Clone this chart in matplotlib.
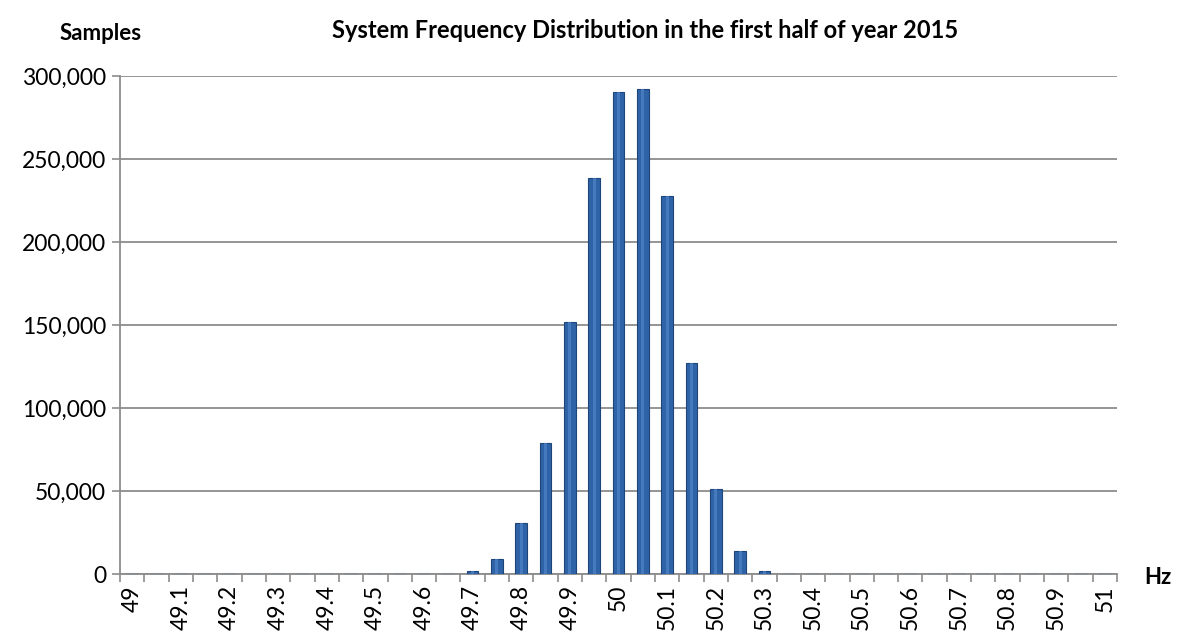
import matplotlib.pyplot as plt
from matplotlib.ticker import FuncFormatter

# frequency bins (Hz) and sample counts
hz_bins = ["49", "49.05", "49.1", "49.15", "49.2", "49.25", "49.3", "49.35", "49.4",
           "49.45", "49.5", "49.55", "49.6", "49.65", "49.7", "49.75", "49.8", "49.85",
           "49.9", "49.95", "50", "50.05", "50.1", "50.15", "50.2", "50.25", "50.3",
           "50.35", "50.4", "50.45", "50.5", "50.55", "50.6", "50.65", "50.7", "50.75",
           "50.8", "50.85", "50.9", "50.95", "51"]
samples = [0, 0, 0, 0, 0, 0, 0, 0, 0,
           0, 0, 0, 50, 300, 2000, 9300, 30500, 78700,
           151800, 238300, 290600, 292000, 227800, 127300, 51000, 13800, 2100,
           300, 0, 0, 0, 0, 0, 0, 0, 0,
           0, 0, 0, 0, 0]

plt.rcParams['font.family'] = ['Lato', 'DejaVu Sans']

fig = plt.figure(figsize=(11.84, 6.39), dpi=100)
ax = fig.add_axes([0.1014, 0.1017, 0.8420, 0.7793])

x = list(range(len(hz_bins)))
ax.bar(x, samples, width=0.48, color='#2F63A8', edgecolor='#1E4578', linewidth=0.8, zorder=3)
# light highlight strip to mimic the cylinder look
ax.bar(x, samples, width=0.12, color='#4F85C9', linewidth=0, zorder=4, alpha=0.7)
# base caps drawn at every category
ax.scatter(x, [0] * len(x), marker='_', s=100, color='#9BB4D8', zorder=2, linewidths=1.5)

ax.set_xlim(-0.5, len(hz_bins) - 0.5)
ax.set_ylim(0, 300000)
ax.set_yticks(range(0, 300001, 50000))
ax.yaxis.set_major_formatter(FuncFormatter(lambda v, p: f"{int(v):,}"))
ax.grid(axis='y', color='#8C8C8C', linewidth=1.3, zorder=0)

# labels every 0.1 Hz, ticks at category boundaries
ax.set_xticks(x[::2])
ax.set_xticklabels(hz_bins[::2], rotation=90, fontsize=16.5)
ax.set_xticks([i - 0.5 for i in range(len(hz_bins) + 1)], minor=True)
ax.tick_params(axis='x', which='major', length=0, pad=8)
ax.tick_params(axis='x', which='minor', length=6, color='#8C8C8C', width=1.2)
ax.tick_params(axis='y', length=6, color='#8C8C8C', width=1.2, labelsize=16.5, pad=4)

for side in ['top', 'right']:
    ax.spines[side].set_visible(False)
for side in ['left', 'bottom']:
    ax.spines[side].set_color('#8C8C8C')
    ax.spines[side].set_linewidth(1.3)

fig.text(0.545, 0.952, "System Frequency Distribution in the first half of year 2015",
         ha='center', va='center', fontsize=17, fontweight='bold')
fig.text(0.085, 0.948, "Samples", ha='center', va='center', fontsize=16, fontweight='bold')
fig.text(0.978, 0.097, "Hz", ha='center', va='center', fontsize=16, fontweight='bold')

plt.savefig('out.png', dpi=100)
